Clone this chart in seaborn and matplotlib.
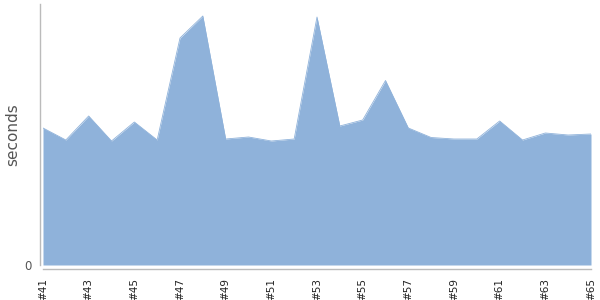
import matplotlib
matplotlib.use("Agg")
import matplotlib.pyplot as plt
import seaborn as sns
import pandas as pd

builds = [f"#{n}" for n in range(41, 66)]
seconds = [1.37, 1.25, 1.49, 1.24, 1.43, 1.25, 2.27, 2.49, 1.26, 1.28, 1.24, 1.26,
           2.48, 1.39, 1.45, 1.845, 1.37, 1.275, 1.26, 1.26, 1.44, 1.25, 1.32, 1.30, 1.31]

df = pd.DataFrame({"build": builds, "seconds": seconds})
df["idx"] = range(len(df))

sns.set_style("white")
fig = plt.figure(figsize=(6, 3), dpi=100)
ax = fig.add_axes([43 / 600, 1 - 265 / 300, 548 / 600, 261 / 300])

ax.fill_between(df["idx"], 0, df["seconds"], color="#8fb2da", linewidth=0, zorder=1)
sns.lineplot(data=df, x="idx", y="seconds", ax=ax, color="#8fb2da", linewidth=0.6, zorder=2)

ax.set_xlim(0, len(df) - 1)
ax.set_ylim(0, 2.61)

ax.set_xticks(df["idx"])
ax.set_xticklabels([b if i % 2 == 0 else "" for i, b in enumerate(builds)])
ax.set_yticks([0])
ax.set_yticklabels(["0"])
ax.tick_params(axis="x", length=3, width=0.8, color="#bbbbbb", pad=3,
               labelrotation=90, labelsize=7.5, labelcolor="#222222")
ax.tick_params(axis="y", length=0, pad=6, labelsize=8.5, labelcolor="#555555")

ax.set_xlabel("")
ax.set_ylabel("seconds", fontsize=11, color="#555555")
ax.yaxis.set_label_coords(-23 / 548, 0.5)

for s in ["top", "right"]:
    ax.spines[s].set_visible(False)
ax.spines["left"].set_color("#bbbbbb")
ax.spines["left"].set_linewidth(1)
ax.spines["left"].set_position(("outward", 2.2))
ax.spines["bottom"].set_color("#bbbbbb")
ax.spines["bottom"].set_linewidth(1)
ax.spines["bottom"].set_position(("outward", 3))

fig.savefig("out.png", dpi=100)
